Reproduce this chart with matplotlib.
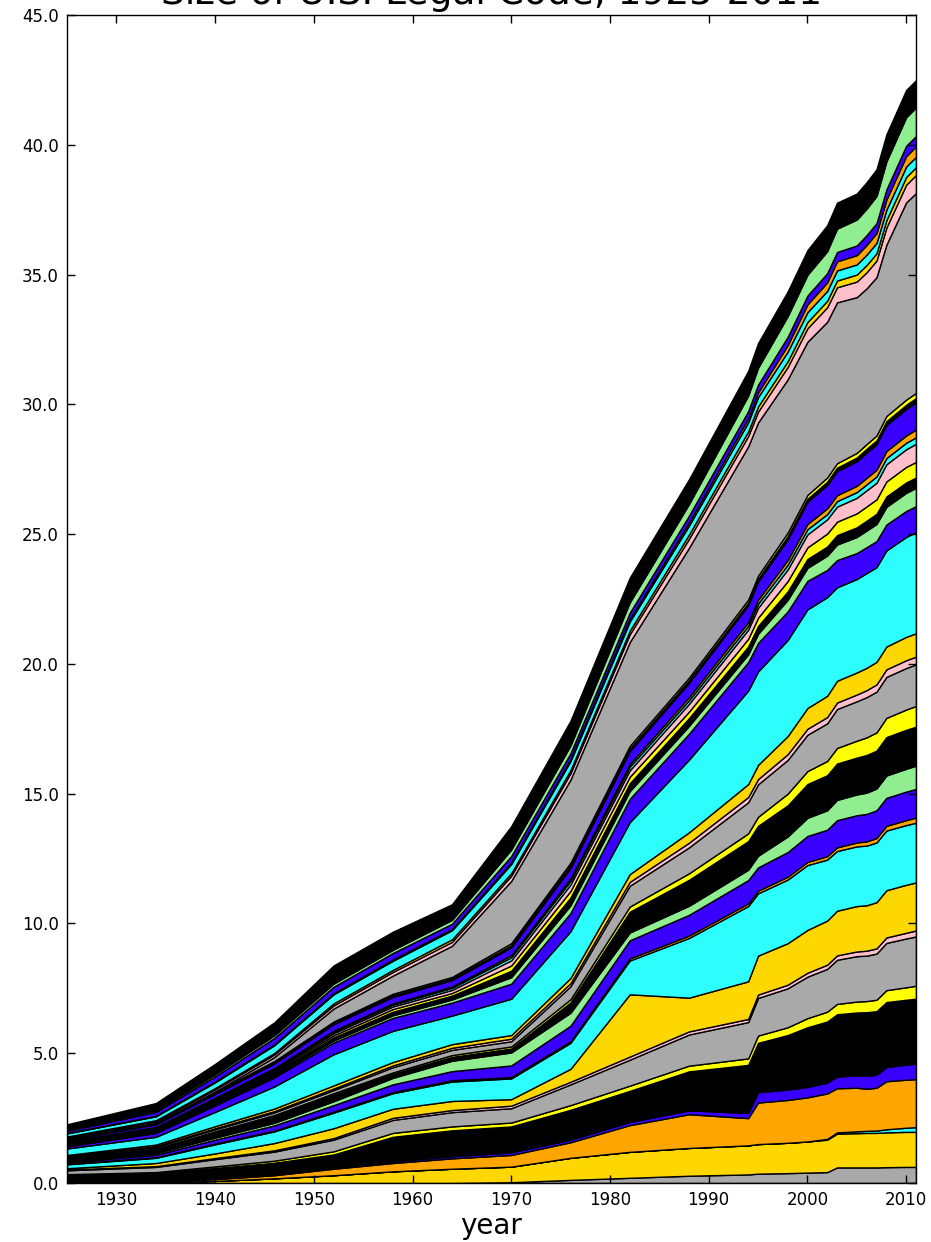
import matplotlib
matplotlib.use("Agg")
import matplotlib.pyplot as plt
from matplotlib.ticker import FormatStrFormatter, MultipleLocator

years = [1925, 1934, 1940, 1946, 1952, 1958, 1964, 1970, 1976, 1982, 1988, 1994,
         1995, 1998, 2000, 2002, 2003, 2005, 2006, 2007, 2008, 2010, 2011]

gray_a   = [0, 0, 0, 0, 0, 0, 0, 0.03, 0.12, 0.2, 0.28, 0.33, 0.36, 0.38, 0.4, 0.42, 0.6, 0.6, 0.6, 0.6, 0.61, 0.62, 0.62]
gold_a   = [0, 0.02, 0.08, 0.18, 0.3, 0.45, 0.55, 0.6, 0.85, 1.0, 1.07, 1.12, 1.14, 1.17, 1.2, 1.25, 1.3, 1.32, 1.33, 1.33, 1.34, 1.35, 1.35]
cyan_a   = [0, 0, 0, 0, 0, 0, 0, 0, 0, 0, 0, 0, 0, 0, 0, 0.03, 0.05, 0.07, 0.08, 0.09, 0.12, 0.16, 0.18]
orange_a = [0.02, 0.03, 0.07, 0.12, 0.25, 0.32, 0.4, 0.45, 0.6, 1.03, 1.3, 1.05, 1.6, 1.65, 1.7, 1.75, 1.7, 1.68, 1.62, 1.65, 1.85, 1.85, 1.85]
blue_a   = [0.02, 0.02, 0.03, 0.03, 0.05, 0.06, 0.08, 0.1, 0.1, 0.12, 0.15, 0.2, 0.4, 0.4, 0.4, 0.42, 0.45, 0.48, 0.5, 0.5, 0.55, 0.58, 0.6]
black_a  = [0.25, 0.3, 0.4, 0.45, 0.5, 0.95, 1.0, 1.0, 1.15, 1.2, 1.5, 1.85, 1.9, 2.1, 2.3, 2.35, 2.4, 2.42, 2.45, 2.45, 2.5, 2.5, 2.5]
yellow_a = [0.05, 0.05, 0.06, 0.08, 0.12, 0.15, 0.15, 0.15, 0.18, 0.2, 0.22, 0.25, 0.28, 0.3, 0.35, 0.38, 0.4, 0.42, 0.43, 0.44, 0.46, 0.48, 0.5]
gray_b   = [0.15, 0.2, 0.28, 0.35, 0.45, 0.5, 0.55, 0.55, 0.8, 1.0, 1.2, 1.4, 1.45, 1.5, 1.6, 1.65, 1.7, 1.75, 1.75, 1.78, 1.82, 1.88, 1.9]
pink_b   = [0.03, 0.03, 0.04, 0.05, 0.06, 0.08, 0.08, 0.1, 0.1, 0.12, 0.12, 0.12, 0.13, 0.14, 0.15, 0.16, 0.17, 0.18, 0.19, 0.2, 0.21, 0.22, 0.23]
gold_b   = [0.05, 0.12, 0.18, 0.28, 0.38, 0.35, 0.35, 0.25, 0.5, 2.4, 1.3, 1.45, 1.5, 1.6, 1.65, 1.7, 1.72, 1.75, 1.75, 1.78, 1.82, 1.85, 1.85]
cyan_b   = [0.15, 0.2, 0.35, 0.45, 0.6, 0.6, 0.75, 0.8, 1.0, 1.3, 2.3, 2.9, 2.4, 2.45, 2.5, 2.35, 2.3, 2.3, 2.3, 2.3, 2.3, 2.3, 2.3]
orange_b = [0.02, 0.02, 0.03, 0.03, 0.04, 0.04, 0.05, 0.05, 0.06, 0.08, 0.09, 0.1, 0.1, 0.11, 0.12, 0.13, 0.14, 0.15, 0.16, 0.17, 0.18, 0.19, 0.2]
blue_b   = [0.05, 0.1, 0.15, 0.2, 0.25, 0.3, 0.35, 0.45, 0.6, 0.7, 0.8, 0.9, 0.9, 0.95, 1.0, 1.02, 1.05, 1.05, 1.06, 1.07, 1.08, 1.1, 1.1]
green_b  = [0.05, 0.06, 0.08, 0.1, 0.15, 0.25, 0.4, 0.5, 0.5, 0.3, 0.35, 0.4, 0.45, 0.6, 0.7, 0.75, 0.78, 0.8, 0.82, 0.84, 0.86, 0.88, 0.9]
black_b  = [0.08, 0.15, 0.2, 0.25, 0.25, 0.15, 0.15, 0.15, 0.4, 0.8, 1.0, 1.1, 1.15, 1.2, 1.3, 1.35, 1.4, 1.42, 1.45, 1.46, 1.48, 1.5, 1.5]
yellow_b = [0.03, 0.03, 0.04, 0.05, 0.06, 0.06, 0.07, 0.08, 0.12, 0.2, 0.25, 0.3, 0.35, 0.45, 0.5, 0.55, 0.6, 0.65, 0.68, 0.7, 0.74, 0.78, 0.8]
gray_c   = [0.05, 0.06, 0.08, 0.1, 0.12, 0.2, 0.2, 0.2, 0.5, 0.8, 1.0, 1.2, 1.25, 1.3, 1.4, 1.45, 1.5, 1.52, 1.55, 1.57, 1.58, 1.6, 1.6]
pink_c   = [0.03, 0.03, 0.04, 0.05, 0.06, 0.07, 0.08, 0.1, 0.12, 0.15, 0.18, 0.2, 0.2, 0.22, 0.23, 0.24, 0.25, 0.26, 0.27, 0.28, 0.29, 0.3, 0.3]
gold_c   = [0.05, 0.06, 0.08, 0.1, 0.12, 0.13, 0.14, 0.14, 0.2, 0.3, 0.4, 0.5, 0.55, 0.7, 0.8, 0.82, 0.84, 0.85, 0.86, 0.87, 0.88, 0.9, 0.9]
cyan_c   = [0.25, 0.3, 0.55, 0.85, 1.2, 1.2, 1.1, 1.4, 1.8, 2.0, 2.8, 3.6, 3.6, 3.7, 3.8, 3.8, 3.6, 3.6, 3.65, 3.65, 3.7, 3.85, 3.9]
blue_c   = [0.08, 0.15, 0.25, 0.35, 0.45, 0.5, 0.5, 0.58, 0.7, 0.9, 1.0, 1.1, 1.1, 1.1, 1.1, 1.05, 1.05, 1.0, 1.0, 1.0, 1.0, 1.0, 1.0]
green_c  = [0.03, 0.04, 0.05, 0.06, 0.08, 0.1, 0.12, 0.25, 0.3, 0.3, 0.3, 0.3, 0.35, 0.45, 0.5, 0.55, 0.6, 0.62, 0.64, 0.66, 0.68, 0.7, 0.7]
black_c  = [0.05, 0.06, 0.08, 0.1, 0.12, 0.14, 0.15, 0.25, 0.3, 0.3, 0.3, 0.3, 0.3, 0.32, 0.34, 0.35, 0.36, 0.37, 0.38, 0.39, 0.4, 0.4, 0.4]
yellow_c = [0.03, 0.04, 0.05, 0.06, 0.08, 0.1, 0.1, 0.2, 0.25, 0.25, 0.25, 0.3, 0.32, 0.4, 0.45, 0.5, 0.52, 0.54, 0.55, 0.56, 0.58, 0.6, 0.6]
pink_d   = [0.03, 0.04, 0.05, 0.06, 0.08, 0.1, 0.12, 0.2, 0.25, 0.25, 0.3, 0.35, 0.38, 0.45, 0.5, 0.55, 0.58, 0.6, 0.62, 0.64, 0.66, 0.68, 0.7]
cyan_d   = [0.03, 0.03, 0.04, 0.05, 0.06, 0.07, 0.08, 0.12, 0.14, 0.14, 0.14, 0.15, 0.16, 0.18, 0.2, 0.2, 0.21, 0.22, 0.23, 0.24, 0.24, 0.25, 0.25]
orange_d = [0.02, 0.02, 0.03, 0.03, 0.04, 0.05, 0.05, 0.08, 0.1, 0.1, 0.12, 0.14, 0.15, 0.18, 0.2, 0.22, 0.23, 0.24, 0.25, 0.26, 0.27, 0.28, 0.3]
blue_d   = [0.05, 0.1, 0.14, 0.18, 0.25, 0.25, 0.25, 0.3, 0.4, 0.5, 0.55, 0.65, 0.7, 0.8, 0.85, 0.9, 0.92, 0.95, 0.97, 0.98, 1.0, 1.02, 1.05]
black_d  = [0.03, 0.03, 0.04, 0.05, 0.05, 0.06, 0.06, 0.08, 0.1, 0.1, 0.1, 0.1, 0.11, 0.12, 0.12, 0.13, 0.14, 0.14, 0.15, 0.15, 0.15, 0.16, 0.16]
yellow_d = [0.03, 0.03, 0.04, 0.04, 0.05, 0.06, 0.06, 0.08, 0.1, 0.1, 0.1, 0.12, 0.12, 0.14, 0.15, 0.16, 0.17, 0.18, 0.18, 0.19, 0.2, 0.2, 0.2]
gray_e   = [0, 0, 0.02, 0.15, 0.5, 0.7, 1.2, 2.4, 3.2, 4.0, 5.0, 5.9, 5.9, 5.9, 5.9, 6.0, 6.2, 6.0, 6.0, 6.1, 6.6, 7.6, 7.7]
pink_e   = [0.05, 0.06, 0.08, 0.1, 0.12, 0.14, 0.15, 0.2, 0.25, 0.3, 0.35, 0.4, 0.42, 0.48, 0.52, 0.56, 0.58, 0.6, 0.62, 0.64, 0.66, 0.68, 0.7]
gold_e   = [0.03, 0.04, 0.05, 0.06, 0.08, 0.08, 0.1, 0.1, 0.12, 0.14, 0.16, 0.18, 0.2, 0.22, 0.24, 0.25, 0.26, 0.27, 0.28, 0.28, 0.29, 0.3, 0.3]
cyan_e   = [0.12, 0.15, 0.22, 0.3, 0.35, 0.35, 0.35, 0.35, 0.35, 0.35, 0.35, 0.35, 0.36, 0.37, 0.38, 0.38, 0.39, 0.39, 0.4, 0.4, 0.4, 0.4, 0.4]
orange_e = [0.02, 0.02, 0.03, 0.03, 0.04, 0.05, 0.05, 0.06, 0.08, 0.1, 0.12, 0.15, 0.18, 0.25, 0.3, 0.33, 0.35, 0.36, 0.37, 0.38, 0.39, 0.4, 0.4]
blue_e   = [0.08, 0.15, 0.2, 0.25, 0.25, 0.25, 0.2, 0.25, 0.22, 0.24, 0.26, 0.28, 0.3, 0.32, 0.34, 0.35, 0.36, 0.37, 0.38, 0.38, 0.39, 0.4, 0.4]
green_e  = [0.05, 0.06, 0.08, 0.1, 0.12, 0.12, 0.15, 0.25, 0.3, 0.4, 0.45, 0.6, 0.65, 0.8, 0.8, 0.85, 0.9, 1.0, 1.02, 1.05, 1.08, 1.1, 1.1]
black_e  = [0.2, 0.28, 0.4, 0.5, 0.7, 0.7, 0.6, 0.9, 0.95, 0.95, 0.95, 0.95, 0.95, 0.95, 0.95, 1.0, 1.0, 1.0, 1.02, 1.03, 1.04, 1.05, 1.05]

series = [gray_a, gold_a, cyan_a, orange_a, blue_a, black_a, yellow_a,
          gray_b, pink_b, gold_b, cyan_b, orange_b, blue_b, green_b, black_b, yellow_b,
          gray_c, pink_c, gold_c, cyan_c, blue_c, green_c, black_c, yellow_c,
          pink_d, cyan_d, orange_d, blue_d, black_d, yellow_d,
          gray_e, pink_e, gold_e, cyan_e, orange_e, blue_e, green_e, black_e]

GRAY, GOLD, CYAN, ORANGE = '#a9a9a9', '#ffd700', '#2dfdfd', '#ffa500'
BLUE, BLACK, YELLOW, PINK, GREEN = '#3a00ff', '#000000', '#ffff00', '#ffc0cb', '#90ee90'
colors = [GRAY, GOLD, CYAN, ORANGE, BLUE, BLACK, YELLOW,
          GRAY, PINK, GOLD, CYAN, ORANGE, BLUE, GREEN, BLACK, YELLOW,
          GRAY, PINK, GOLD, CYAN, BLUE, GREEN, BLACK, YELLOW,
          PINK, CYAN, ORANGE, BLUE, BLACK, YELLOW,
          GRAY, PINK, GOLD, CYAN, ORANGE, BLUE, GREEN, BLACK]

fig = plt.figure(figsize=(9.31, 12.42), dpi=100, facecolor='white')
ax = fig.add_axes([67/931, 1 - 1183/1242, (916-67)/931, (1183-15)/1242])
ax.stackplot(years, *series, colors=colors, edgecolor='black', linewidth=1.0)

ax.set_xlim(1925, 2011)
ax.set_ylim(0, 45)
ax.xaxis.set_major_locator(MultipleLocator(10))
ax.yaxis.set_major_locator(MultipleLocator(5))
ax.yaxis.set_major_formatter(FormatStrFormatter('%.1f'))
ax.tick_params(direction='in', length=6, width=1, top=True, right=True,
               labelsize=12, pad=6)
for s in ax.spines.values():
    s.set_linewidth(1.0)
ax.set_xlabel('year', fontsize=20, labelpad=2)
ax.set_title('Size of U.S. Legal Code, 1925-2011', fontsize=27, pad=8)

fig.savefig('out.png', dpi=100, facecolor='white')
